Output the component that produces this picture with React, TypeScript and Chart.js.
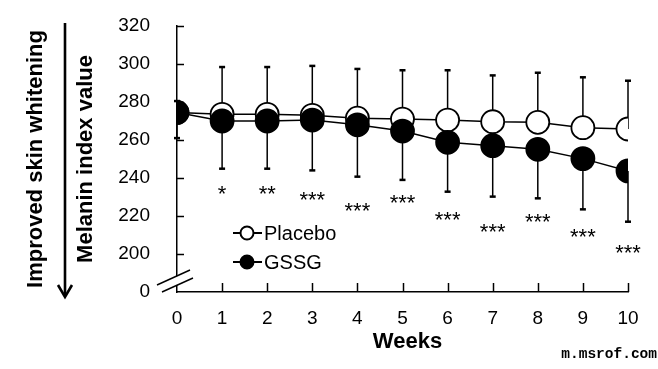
import { useEffect, useRef } from 'react';
import { Chart, registerables } from 'chart.js';

Chart.register(...registerables);

// ---- data ----
const weeks = [0, 1, 2, 3, 4, 5, 6, 7, 8, 9, 10];
const placeboMean = [274.5, 273.5, 273.5, 273, 271.5, 271, 270.5, 269.6, 269.3, 266.5, 265.8];
const gssgMean = [274.5, 270, 270, 270.5, 268, 264.7, 258.8, 257, 255.1, 250.2, 243.7];
const placeboUpper = [280.5, 298.4, 298.4, 299, 297.4, 296.7, 296.7, 294, 295.4, 293, 291.2];
const gssgLower = [261, 244.9, 244.9, 244, 240.7, 239, 232.8, 230.2, 229.3, 223.5, 217];
const significance = ['', '*', '**', '***', '***', '***', '***', '***', '***', '***', '***'];
const significanceY = [0, 234.7, 234.7, 231.1, 225.3, 230, 221, 214.7, 220, 212.1, 203.2];
const yMin = 180; // shown as "0" across the axis break
const yMax = 320;
const yStep = 20;
const xTitle = 'Weeks';
const yTitle = 'Melanin index value';
const yOuterTitle = 'Improved skin whitening';
const seriesNames = ['Placebo', 'GSSG'];
const watermark = 'm.msrof.com';

const SANS = '"Liberation Sans", Arial, sans-serif';

export default function App() {
  const ref = useRef<HTMLCanvasElement>(null);

  useEffect(() => {
    document.body.style.margin = '0';
    const canvas = ref.current!;

    const line = (ctx: CanvasRenderingContext2D, x1: number, y1: number, x2: number, y2: number) => {
      ctx.beginPath();
      ctx.moveTo(x1, y1);
      ctx.lineTo(x2, y2);
      ctx.stroke();
    };

    const errorBars = {
      id: 'errorBars',
      beforeDatasetsDraw(chart: any) {
        const { ctx, scales } = chart;
        const x = scales.x;
        const y = scales.y;
        ctx.save();
        ctx.strokeStyle = '#000';
        const draw = (means: number[], ends: number[]) => {
          weeks.forEach((w, i) => {
            const px = x.getPixelForValue(w);
            const p0 = y.getPixelForValue(means[i]);
            const p1 = y.getPixelForValue(ends[i]);
            ctx.lineWidth = 1.5;
            line(ctx, px, p0, px, p1);
            ctx.lineWidth = 2.5;
            line(ctx, px - 3, p1, px + 3, p1);
          });
        };
        draw(placeboMean, placeboUpper);
        draw(gssgMean, gssgLower);
        ctx.restore();
      },
    };

    const decorations = {
      id: 'decorations',
      afterDraw(chart: any) {
        const { ctx, scales, chartArea } = chart;
        const x = scales.x;
        const y = scales.y;
        const L = chartArea.left;
        const B = chartArea.bottom;
        ctx.save();
        ctx.strokeStyle = '#000';
        ctx.fillStyle = '#000';
        ctx.lineWidth = 1.5;
        // inward tick marks
        for (let v = yMin + yStep; v <= yMax; v += yStep) {
          const py = Math.round(y.getPixelForValue(v)) + 0.5;
          line(ctx, L, py, L + 7, py);
        }
        weeks.slice(1).forEach((w) => {
          const px = Math.round(x.getPixelForValue(w)) + 0.5;
          line(ctx, px, B, px, B - 9);
        });
        // axis break
        ctx.fillStyle = '#fff';
        ctx.beginPath();
        ctx.moveTo(L - 20, B - 7);
        ctx.lineTo(L + 13, B - 22);
        ctx.lineTo(L + 16, B - 14);
        ctx.lineTo(L - 15, B);
        ctx.closePath();
        ctx.fill();
        ctx.lineWidth = 1.4;
        line(ctx, L - 20, B - 7, L + 13, B - 22);
        line(ctx, L - 15, B, L + 16, B - 14);

        // significance marks
        ctx.fillStyle = '#000';
        ctx.font = `22px ${SANS}`;
        ctx.textAlign = 'center';
        ctx.textBaseline = 'alphabetic';
        weeks.forEach((w, i) => {
          if (!significance[i]) return;
          ctx.fillText(significance[i], x.getPixelForValue(w), y.getPixelForValue(significanceY[i]) + 12.5);
        });

        // legend
        const legendX = 247;
        const legendYs = [233, 262];
        const fills = ['#fff', '#000'];
        legendYs.forEach((ly, i) => {
          ctx.lineWidth = 2;
          ctx.strokeStyle = '#000';
          line(ctx, legendX - 14, ly, legendX + 15, ly);
          ctx.beginPath();
          ctx.arc(legendX, ly, 6.5, 0, Math.PI * 2);
          ctx.fillStyle = fills[i];
          ctx.fill();
          ctx.stroke();
          ctx.fillStyle = '#000';
          ctx.font = `20px ${SANS}`;
          ctx.textAlign = 'left';
          ctx.textBaseline = 'middle';
          ctx.fillText(seriesNames[i], 264, ly + 1);
        });

        // x title
        ctx.font = `bold 22px ${SANS}`;
        ctx.textAlign = 'center';
        ctx.textBaseline = 'middle';
        ctx.fillText(xTitle, (chartArea.left + chartArea.right) / 2 + 5, 342);

        // rotated y titles
        const rot = (text: string, cx: number, cy: number) => {
          ctx.save();
          ctx.translate(cx, cy);
          ctx.rotate(-Math.PI / 2);
          ctx.font = `bold 22px ${SANS}`;
          ctx.textAlign = 'center';
          ctx.textBaseline = 'middle';
          ctx.fillText(text, 0, 0);
          ctx.restore();
        };
        rot(yTitle, 86, 159);
        rot(yOuterTitle, 36, 159);

        // arrow
        ctx.lineWidth = 2.6;
        ctx.lineCap = 'butt';
        line(ctx, 65, 23, 65, 296);
        ctx.beginPath();
        ctx.moveTo(58, 285);
        ctx.lineTo(65, 297);
        ctx.lineTo(72, 285);
        ctx.stroke();

        // watermark
        ctx.font = `bold 14.5px "Liberation Mono", "DejaVu Sans Mono", monospace`;
        ctx.textAlign = 'right';
        ctx.textBaseline = 'alphabetic';
        ctx.fillText(watermark, 657, 358);
        ctx.restore();
      },
    };

    const chart = new Chart(canvas, {
      type: 'line',
      data: {
        datasets: [
          {
            label: seriesNames[0],
            data: weeks.map((w, i) => ({ x: w, y: placeboMean[i] })),
            borderColor: '#000',
            borderWidth: 1.5,
            backgroundColor: '#fff',
            pointBackgroundColor: '#fff',
            pointBorderColor: '#000',
            pointBorderWidth: 1.8,
            pointRadius: 11.5,
            pointHoverRadius: 11.5,
            order: 1,
          },
          {
            label: seriesNames[1],
            data: weeks.map((w, i) => ({ x: w, y: gssgMean[i] })),
            borderColor: '#000',
            borderWidth: 1.5,
            backgroundColor: '#000',
            pointBackgroundColor: '#000',
            pointBorderColor: '#000',
            pointBorderWidth: 1.8,
            pointRadius: 11.5,
            pointHoverRadius: 11.5,
            order: 0,
          },
        ],
      },
      options: {
        responsive: false,
        animation: false,
        layout: { autoPadding: false, padding: { left: 0, top: 26, right: 30, bottom: 0 } },
        plugins: { legend: { display: false }, tooltip: { enabled: false } },
        scales: {
          x: {
            type: 'linear',
            min: 0,
            max: 10,
            grid: { display: false, drawTicks: false },
            border: { display: true, color: '#000', width: 1.5 },
            ticks: {
              stepSize: 1,
              padding: 15,
              color: '#000',
              font: { family: SANS, size: 19 },
            },
            afterFit(scale: any) {
              scale.height = 77;
              scale.paddingLeft = 0;
              scale.paddingRight = 0;
            },
          },
          y: {
            type: 'linear',
            min: yMin,
            max: yMax,
            grid: { display: false, drawTicks: false },
            border: { display: true, color: '#000', width: 1.5 },
            ticks: {
              stepSize: yStep,
              padding: 27,
              color: '#000',
              font: { family: SANS, size: 19 },
              callback: (v: any) => (v === yMin ? '0' : String(v)),
            },
            afterFit(scale: any) {
              scale.width = 177;
              scale.paddingTop = 0;
              scale.paddingBottom = 0;
            },
          },
        },
      },
      plugins: [errorBars, decorations],
    });

    return () => chart.destroy();
  }, []);

  return (
    <div style={{ width: 658, height: 369 }}>
      <canvas ref={ref} width={658} height={369} style={{ display: 'block' }} />
    </div>
  );
}
